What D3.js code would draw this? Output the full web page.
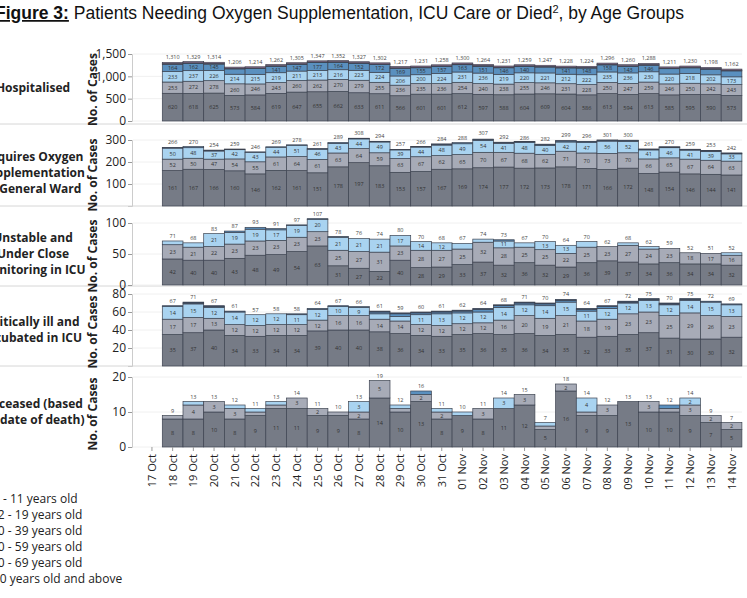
<!DOCTYPE html>
<html><head><meta charset="utf-8">
<script src="https://cdn.jsdelivr.net/npm/d3@7"></script>
<style>body{margin:0;background:#fff;overflow:hidden}svg{display:block}</style>
</head><body><div id="chart"></div>
<script>
const dates = ['17 Oct','18 Oct','19 Oct','20 Oct','21 Oct','22 Oct','23 Oct','24 Oct','25 Oct','26 Oct','27 Oct','28 Oct','29 Oct','30 Oct','31 Oct',
  '01 Nov','02 Nov','03 Nov','04 Nov','05 Nov','06 Nov','07 Nov','08 Nov','09 Nov','10 Nov','11 Nov','12 Nov','13 Nov','14 Nov','15 Nov'];
const barDates = dates.slice(1, 29);
const ageGroups = ['0 - 11 years old','12 - 19 years old','20 - 39 years old','40 - 59 years old','60 - 69 years old','70 years old and above'];
// stacking order bottom -> top
const stackKeys = ['70+','60-69','40-59','20-39','12-19','0-11'];
const colors = {'70+':'#767b86','60-69':'#a7abb7','40-59':'#a9d3f0','20-39':'#5a90bf','12-19':'#2c4b73','0-11':'#b07ca3'};

const hospTotal = [1310,1329,1314,1206,1214,1262,1305,1347,1352,1327,1302,1217,1231,1258,1300,1264,1231,1259,1247,1228,1224,1296,1260,1288,1211,1230,1198,1162];
const hosp70 = [620,618,625,573,584,619,647,655,662,633,611,566,601,601,612,597,588,604,609,604,586,613,594,613,585,595,590,573];
const hosp60 = [253,272,278,260,246,243,260,262,270,279,255,236,235,236,254,240,238,255,246,231,228,250,247,259,246,250,242,243];
const hosp40 = [233,237,226,214,215,219,211,213,216,223,224,206,200,224,231,236,219,220,221,212,222,235,236,230,220,218,202,173];
const hosp20 = [164,162,145,119,129,141,147,177,164,152,172,169,155,157,163,151,146,140,131,141,148,158,143,146,120,127,124,133];
const hosp12 = [15,14,15,15,14,15,16,15,15,16,15,15,15,15,15,15,15,15,15,15,15,15,15,15,15,15,15,15];
const hosp0 = [25,26,25,25,26,25,24,25,25,24,25,25,25,25,25,25,25,25,25,25,25,25,25,25,25,25,25,25];

const oxyTotal = [266,270,254,259,246,269,278,261,289,308,294,257,266,284,288,307,292,286,282,299,296,301,300,261,270,259,253,242];
const oxy70 = [161,167,166,160,146,162,161,151,178,197,183,153,157,167,169,174,177,172,173,178,171,166,172,148,154,146,144,141];
const oxy60 = [52,50,47,54,55,61,64,61,63,64,59,63,67,62,65,70,67,68,62,71,70,73,70,66,65,67,64,63];
const oxy40 = [50,48,37,42,43,44,51,46,43,44,49,39,44,48,49,54,41,48,40,42,47,56,52,41,46,41,39,33];
const oxy20 = [3,5,3,3,2,2,2,3,5,2,2,2,1,4,5,5,4,4,5,5,5,4,4,3,3,3,4,3];
const oxy12 = [0,0,1,0,0,0,0,0,0,1,1,0,1,1,0,1,1,1,1,1,1,1,1,1,1,1,1,1];

const icuTotal = [71,68,83,87,93,91,97,107,78,76,74,80,70,68,67,74,73,67,70,64,70,62,68,62,59,52,51,52];
const icu70 = [42,40,40,43,48,49,54,63,31,27,22,40,28,29,33,37,32,36,32,29,36,39,37,34,36,34,34,32];
const icu60 = [23,21,22,23,23,23,23,23,25,27,31,23,28,27,25,32,28,25,25,22,25,23,27,24,23,18,17,16];
const icu40 = [6,7,21,19,19,17,19,20,21,21,21,17,14,12,9,5,11,7,13,13,9,0,4,4,0,0,0,4];
const icu20 = [0,0,0,2,3,2,1,1,1,0,0,0,0,0,0,0,2,0,0,0,0,0,0,0,0,0,0,0];

const intTotal = [67,71,67,61,57,58,58,64,67,66,61,59,60,61,62,64,68,71,70,74,64,67,72,75,70,75,72,69];
const int70 = [35,37,40,34,33,34,34,39,40,40,38,36,34,33,35,36,35,36,34,35,32,33,35,37,31,30,30,32];
const int60 = [17,17,13,12,12,12,12,12,16,16,14,14,12,12,12,12,16,20,19,21,18,19,23,23,25,29,26,23];
const int40 = [14,15,12,14,12,12,11,12,10,9,6,5,11,13,12,12,14,12,14,15,11,12,12,13,12,14,15,13];
const int20 = [1,1,1,1,0,0,1,1,1,1,2,3,2,2,2,3,2,2,2,2,2,2,1,1,1,1,1,1];
const int12 = [0,1,1,0,0,0,0,0,0,0,1,1,1,1,1,1,1,1,1,1,1,1,1,1,1,1,0,0];

const decTotal = [9,13,13,12,11,13,14,11,10,13,19,12,16,11,10,11,14,15,7,18,14,12,13,13,12,14,9,7];
const dec70 = [8,8,10,8,9,11,11,9,9,8,14,10,13,8,9,8,11,12,5,16,9,9,13,10,10,9,7,5];
const dec60 = [1,4,3,3,1,1,3,2,1,2,5,1,2,2,0,3,0,3,1,2,1,3,0,3,1,3,2,2];
const dec40 = [0,1,0,1,1,1,0,0,0,3,0,1,0,1,1,0,3,0,1,0,4,0,0,0,0,2,0,0];
const dec20 = [0,0,0,0,0,0,0,0,0,0,0,0,1,0,0,0,0,0,0,0,0,0,0,0,1,0,0,0];

const zeros = barDates.map(() => 0);
const panels = [
  {label:['Hospitalised'], totals:hospTotal, series:[hosp70,hosp60,hosp40,hosp20,hosp12,hosp0], max:1500, ticks:[0,500,1000,1500], y0:121, y1:54},
  {label:['Requires Oxygen','Supplementation','in General Ward'], totals:oxyTotal, series:[oxy70,oxy60,oxy40,oxy20,oxy12,zeros], max:300, ticks:[100,200,300], y0:206, y1:140},
  {label:['Unstable and','Under Close','Monitoring in ICU'], totals:icuTotal, series:[icu70,icu60,icu40,icu20,zeros,zeros], max:100, ticks:[0,50,100], y0:285, y1:223},
  {label:['Critically ill and','Intubated in ICU'], totals:intTotal, series:[int70,int60,int40,int20,int12,zeros], max:80, ticks:[20,40,60,80], y0:366, y1:294},
  {label:['Deceased (based','on date of death)'], totals:decTotal, series:[dec70,dec60,dec40,dec20,zeros,zeros], max:20, ticks:[0,10,20], y0:447, y1:377}
];

const W = 747, H = 598;
const svg = d3.select('#chart').append('svg').attr('width', W).attr('height', H);
const font = "'Open Sans', Lato, sans-serif";

// title
const title = svg.append('text').attr('x', -5).attr('y', 19)
  .style('font-family', "'Liberation Sans', Arial, sans-serif").style('font-size', '17.5px').style('fill', '#111');
title.append('tspan').text('Figure 3:').style('font-weight', 'bold').style('text-decoration', 'underline');
title.append('tspan').text(' Patients Needing Oxygen Supplementation, ICU Care or Died');
title.append('tspan').text('2').attr('dy', -6).style('font-size', '11px');
title.append('tspan').text(', by Age Groups').attr('dy', 6);

const x = d3.scaleBand().domain(dates).range([141.6, 141.6 + 30 * 20.7]).padding(0);

// separators
[124, 206, 286, 366].forEach(yy => svg.append('line').attr('x1', 0).attr('x2', W).attr('y1', yy).attr('y2', yy)
  .attr('stroke', '#d6d6d6').attr('stroke-width', 1));

panels.forEach(p => {
  const y = d3.scaleLinear().domain([0, p.max]).range([p.y0, p.y1]);
  const g = svg.append('g');
  g.selectAll('.grid').data(p.ticks).enter().append('line')
    .attr('x1', 133).attr('x2', 742).attr('y1', d => y(d)).attr('y2', d => y(d))
    .attr('stroke', '#f0f0f0');
  const ax = g.append('g').attr('transform', 'translate(132,0)')
    .call(d3.axisLeft(y).tickValues(p.ticks).tickSize(4).tickPadding(2));
  ax.select('.domain').attr('stroke', '#ccc');
  ax.selectAll('.tick line').attr('stroke', '#999');
  ax.selectAll('text').style('font-family', font).style('font-size', '12px').style('fill', '#222');
  g.append('text').attr('transform', `translate(97,${(p.y0 + p.y1) / 2 + 2}) rotate(-90)`)
    .attr('text-anchor', 'middle').text('No. of Cases')
    .style('font-family', font).style('font-weight', 'bold').style('font-size', '12px').style('fill', '#222');
  const n = p.label.length;
  const cy = (p.y0 + p.y1) / 2 + 4;
  p.label.forEach((t, i) => g.append('text').attr('x', 33).attr('y', cy + (i - (n - 1) / 2) * 16)
    .attr('text-anchor', 'middle').text(t)
    .style('font-family', font).style('font-weight', 'bold').style('font-size', '12px').style('fill', '#222'));

  barDates.forEach((d, i) => {
    let acc = 0;
    p.series.forEach((s, k) => {
      const v = s[i];
      if (!v) return;
      const yTop = y(acc + v), yBot = y(acc);
      g.append('rect').attr('x', x(d)).attr('width', x.bandwidth()).attr('y', yTop).attr('height', yBot - yTop)
        .attr('fill', colors[stackKeys[k]]).attr('stroke', '#3d4350').attr('stroke-width', 0.7);
      if (yBot - yTop > 6) {
        g.append('text').attr('x', x(d) + x.bandwidth() / 2).attr('y', (yTop + yBot) / 2 + 2)
          .attr('text-anchor', 'middle').text(v)
          .style('font-family', font).style('font-size', '5.5px').style('fill', '#333');
      }
      acc += v;
    });
    g.append('text').attr('x', x(d) + x.bandwidth() / 2).attr('y', y(p.totals[i]) - 3)
      .attr('text-anchor', 'middle').text(d3.format(',')(p.totals[i]))
      .style('font-family', font).style('font-size', '5.5px').style('fill', '#444');
  });
});

// x axis labels
const xa = svg.append('g');
xa.selectAll('line').data(dates).enter().append('line')
  .attr('x1', d => x(d) + x.bandwidth() / 2).attr('x2', d => x(d) + x.bandwidth() / 2)
  .attr('y1', 447).attr('y2', 451).attr('stroke', '#999');
xa.selectAll('text').data(dates).enter().append('text')
  .attr('transform', d => `translate(${x(d) + x.bandwidth() / 2 + 4},454) rotate(-90)`)
  .attr('text-anchor', 'end').text(d => d)
  .style('font-family', font).style('font-size', '11px').style('fill', '#222');

// legend text
svg.selectAll('.leg').data(ageGroups).enter().append('text')
  .attr('x', (d, i) => i === 0 || i === 5 ? -7 : -9).attr('y', (d, i) => 503 + i * 16)
  .text(d => d).style('font-family', font).style('font-size', '12px').style('fill', '#222');
</script>
</body></html>
